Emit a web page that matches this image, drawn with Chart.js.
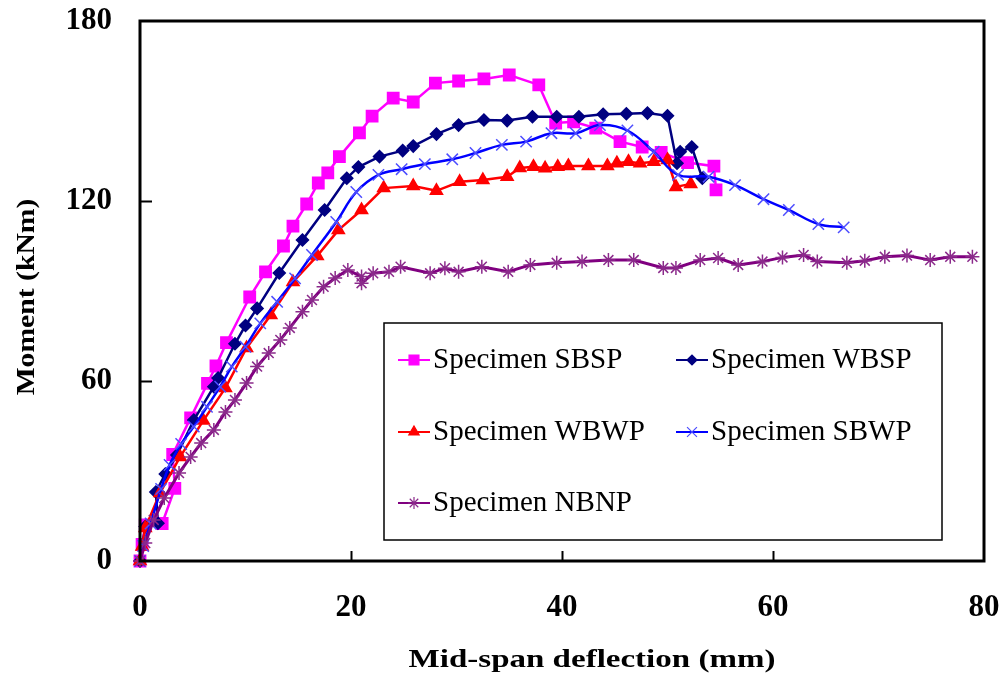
<!DOCTYPE html>
<html>
<head>
<meta charset="utf-8">
<script src="https://cdn.jsdelivr.net/npm/chart.js@4"></script>
<style>
  html, body { margin: 0; padding: 0; background: #fff; }
  #wrap { width: 1006px; height: 683px; }
</style>
</head>
<body>
<div id="wrap"><canvas id="chart" width="1006" height="683"></canvas></div>
<script>
// Mid-span deflection (mm) / moment (kNm)
const sbspX = [0, 0.2, 0.5, 2.1, 3.3, 3.1, 4.8, 6.4, 7.2, 8.2, 10.4, 11.9, 13.6, 14.5, 15.8, 16.9, 17.8, 18.9, 20.8, 22.0, 24.0, 25.9, 28.0, 30.2, 32.6, 35.0, 37.8, 39.4, 41.1, 43.2, 45.5, 47.6, 49.4, 51.9, 54.4, 54.6];
const sbspY = [0, 5.5, 12, 12.5, 24.2, 35.5, 47.7, 59.2, 65, 72.8, 88, 96.4, 105, 111.6, 119, 126, 129.4, 134.8, 142.7, 148.3, 154.3, 153, 159.3, 160, 160.7, 162, 158.7, 146, 146.4, 144.3, 139.8, 138, 136.2, 132.8, 131.6, 123.7];

const wbspX = [0, 0.5, 1.7, 1.5, 2.4, 3.5, 5.1, 7.0, 7.4, 9.0, 10.0, 11.1, 13.2, 15.4, 17.5, 19.6, 20.7, 22.7, 24.9, 25.9, 28.1, 30.2, 32.6, 34.8, 37.2, 39.5, 41.6, 43.9, 46.1, 48.1, 50.0, 50.9, 51.2, 52.3, 53.3];
const wbspY = [0, 11.5, 12.6, 23, 29, 35.3, 47, 58.1, 61, 72.4, 78.5, 84.2, 96, 107, 117, 127.6, 131.3, 134.8, 136.8, 138.3, 142.3, 145.3, 147, 146.8, 148.1, 148.1, 148.1, 148.9, 149.1, 149.3, 148.4, 132.6, 136.4, 138, 127.6];

const wbwpX = [0, 0.2, 0.5, 1.9, 3.8, 6.0, 8.1, 10.1, 12.4, 14.5, 16.8, 18.8, 21.0, 23.1, 25.9, 28.1, 30.3, 32.5, 34.8, 36.0, 37.3, 38.4, 39.6, 40.6, 42.5, 44.3, 45.2, 46.3, 47.4, 48.7, 50.0, 50.8, 52.2];
const wbwpY = [0, 4.8, 11, 22.7, 34.7, 46.8, 57.7, 71, 82, 93, 101.7, 110.3, 117, 124.3, 125, 123.4, 126.4, 127, 128.1, 131, 131.4, 130.9, 131.4, 131.7, 131.7, 131.7, 132.6, 133.1, 132.6, 133.1, 133.7, 124.7, 125.7];

const sbwpX = [0, 0.3, 1.0, 2.0, 2.8, 3.9, 5.1, 6.35, 7.6, 8.7, 10.0, 11.4, 13.0, 14.7, 16.3, 18.6, 20.5, 22.6, 24.8, 27.0, 29.6, 31.8, 34.3, 36.6, 39.0, 41.3, 43.6, 46.2, 48.7, 51.0, 53.9, 56.4, 59.1, 61.5, 64.3, 66.7];
const sbwpY = [0, 5, 12.5, 24, 32, 39, 44.8, 51.4, 58.1, 64.8, 71.4, 79.2, 86.4, 94.2, 102, 113, 123, 128.7, 130.6, 132.3, 133.9, 136, 138.7, 139.8, 142.6, 142.6, 145.3, 143.5, 136.4, 128.7, 128.1, 125.3, 120.6, 117, 112.3, 111.2];

const nbnpX = [0, 0.5, 1.3, 2.3, 3.7, 4.8, 5.8, 7.0, 8.1, 9.0, 10.1, 11.1, 12.2, 13.3, 14.2, 15.4, 16.3, 17.4, 18.5, 19.7, 21.0, 21.0, 22.1, 23.6, 24.7, 27.5, 28.9, 30.2, 32.4, 34.9, 37.0, 39.5, 41.9, 44.4, 46.8, 49.6, 50.8, 53.1, 54.8, 56.7, 59.0, 60.9, 62.9, 64.2, 67.0, 68.7, 70.6, 72.7, 74.9, 76.8, 78.9];
const nbnpY = [0, 6, 13.7, 21, 29.3, 34.7, 39.3, 43.7, 49.7, 53.7, 59.3, 64.8, 69.3, 73.7, 77.7, 83.1, 87, 91.4, 94.3, 97, 94.8, 92.6, 95.9, 96.4, 98.1, 95.9, 97.6, 96.4, 98.1, 96.4, 98.7, 99.4, 99.8, 100.3, 100.3, 97.7, 97.7, 100.3, 101, 98.7, 99.8, 101.2, 102, 99.8, 99.4, 100.1, 101.4, 101.8, 100.3, 101.4, 101.4];

const xTicks = [0, 20, 40, 60, 80];
const yTicks = [0, 60, 120, 180];

const SERIF = '"Liberation Serif", "Times New Roman", serif';

function pairs(xs, ys) {
  return xs.map((x, i) => ({ x, y: ys[i] }));
}

const series = [
  { label: 'Specimen SBSP', xs: sbspX, ys: sbspY, color: '#FF00FF', mark: '#FF00FF', style: 'rect', r: 8, lr: 7, tension: 0, order: 5 },
  { label: 'Specimen WBSP', xs: wbspX, ys: wbspY, color: '#000080', mark: '#000080', style: 'rectRot', r: 6, lr: 5, tension: 0, order: 4 },
  { label: 'Specimen WBWP', xs: wbwpX, ys: wbwpY, color: '#FF0000', mark: '#FF0000', style: 'triangle', r: 7, lr: 6, tension: 0, order: 3 },
  { label: 'Specimen SBWP', xs: sbwpX, ys: sbwpY, color: '#0000FF', mark: '#4D4DFF', style: 'crossRot', r: 8, lr: 7, tension: 0.4, order: 2 },
  { label: 'Specimen NBNP', xs: nbnpX, ys: nbnpY, color: '#800080', mark: '#8B2A8B', style: 'star', r: 7, lr: 6, tension: 0, order: 1 },
];

// frame, inward ticks, axis titles and the boxed legend
const decorPlugin = {
  id: 'decor',
  afterDraw(chart) {
    const { ctx, chartArea: a, scales } = chart;
    ctx.save();
    ctx.strokeStyle = '#000';
    ctx.lineWidth = 2;
    xTicks.slice(1, -1).forEach((v) => {
      const px = Math.round(scales.x.getPixelForValue(v)) + 0.5;
      ctx.beginPath(); ctx.moveTo(px, a.bottom); ctx.lineTo(px, a.bottom - 10); ctx.stroke();
    });
    yTicks.slice(1, -1).forEach((v) => {
      const py = Math.round(scales.y.getPixelForValue(v)) + 0.5;
      ctx.beginPath(); ctx.moveTo(a.left, py); ctx.lineTo(a.left + 12, py); ctx.stroke();
    });
    ctx.lineWidth = 3;
    ctx.strokeRect(a.left, a.top, a.right - a.left, a.bottom - a.top);

    // axis titles (the original type is slightly stretched)
    ctx.fillStyle = '#000';
    ctx.font = 'bold 26px ' + SERIF;
    ctx.textAlign = 'center';
    ctx.textBaseline = 'alphabetic';
    ctx.save();
    ctx.translate(592, 667);
    ctx.scale(1.27, 1);
    ctx.fillText('Mid-span deflection (mm)', 0, 0);
    ctx.restore();
    ctx.save();
    ctx.translate(34, 297);
    ctx.rotate(-Math.PI / 2);
    ctx.scale(1.14, 1);
    ctx.fillText('Moment (kNm)', 0, 0);
    ctx.restore();

    // legend box
    const bx = 384, by = 323, bw = 558, bh = 217;
    ctx.fillStyle = '#fff';
    ctx.fillRect(bx, by, bw, bh);
    ctx.lineWidth = 1.5;
    ctx.strokeStyle = '#000';
    ctx.strokeRect(bx, by, bw, bh);
    const slots = [[398, 360], [676, 360], [398, 432], [676, 432], [398, 503]];
    series.forEach((s, i) => {
      const [lx, ly] = slots[i];
      ctx.strokeStyle = s.color;
      ctx.lineWidth = 2;
      ctx.beginPath(); ctx.moveTo(lx, ly); ctx.lineTo(lx + 32, ly); ctx.stroke();
      ctx.fillStyle = s.mark;
      ctx.strokeStyle = s.mark;
      ctx.lineWidth = 1.2;
      if (Chart.helpers && Chart.helpers.drawPoint) {
        Chart.helpers.drawPoint(ctx, { pointStyle: s.style, radius: s.lr, rotation: 0, borderWidth: 1.2 }, lx + 16, ly);
      }
      ctx.fillStyle = '#000';
      ctx.font = '29px ' + SERIF;
      ctx.textAlign = 'left';
      ctx.textBaseline = 'middle';
      ctx.fillText(s.label, lx + 35, ly);
    });
    ctx.restore();
  }
};

new Chart(document.getElementById('chart'), {
  type: 'scatter',
  data: {
    datasets: series.map((s) => ({
      label: s.label,
      data: pairs(s.xs, s.ys),
      showLine: true,
      borderColor: s.color,
      backgroundColor: s.mark,
      borderWidth: s.style === 'star' ? 3 : 2.5,
      tension: s.tension,
      pointStyle: s.style,
      pointRadius: s.r,
      pointHoverRadius: s.r,
      pointBackgroundColor: s.mark,
      pointBorderColor: s.mark,
      pointBorderWidth: 1.5,
      order: s.order,
      clip: false,
    })),
  },
  options: {
    responsive: false,
    devicePixelRatio: 1,
    animation: false,
    layout: { padding: { top: 21, right: 22, left: 0, bottom: 0 } },
    plugins: { legend: { display: false }, tooltip: { enabled: false } },
    scales: {
      x: {
        type: 'linear', min: 0, max: 80,
        afterBuildTicks: (scale) => { scale.ticks = xTicks.map((v) => ({ value: v })); },
        afterFit: (scale) => {
          scale.height = 122;
          scale.paddingLeft = 0; scale.paddingRight = 0;
        },
        ticks: { color: '#000', padding: 28, font: { family: SERIF, size: 31, weight: 'bold' } },
        grid: { display: true, drawOnChartArea: false, drawTicks: false },
        border: { display: false },
        title: { display: false },
      },
      y: {
        type: 'linear', min: 0, max: 180,
        afterBuildTicks: (scale) => { scale.ticks = yTicks.map((v) => ({ value: v })); },
        afterFit: (scale) => {
          scale.width = 140;
          scale.paddingTop = 0; scale.paddingBottom = 0;
        },
        ticks: { color: '#000', padding: 28, font: { family: SERIF, size: 31, weight: 'bold' } },
        grid: { display: true, drawOnChartArea: false, drawTicks: false },
        border: { display: false },
        title: { display: false },
      },
    },
  },
  plugins: [decorPlugin],
});
</script>
</body>
</html>
